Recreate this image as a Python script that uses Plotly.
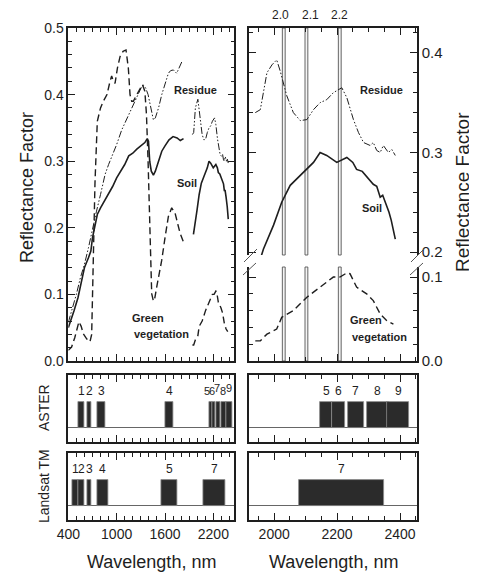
import plotly.graph_objects as go

# ---------------- data ----------------
soil_wl = [400, 430, 470, 520, 560, 600, 650, 680, 700, 730, 760, 800, 850, 900, 950, 1000, 1050,
           1100, 1150, 1200, 1250, 1300, 1350, 1380, 1395, 1410, 1430, 1456, 1480, 1520, 1560, 1600,
           1650, 1700, 1750, 1790, 1830, 1890,
           1953, 1966, 1998, 2024, 2051, 2083, 2104, 2125, 2146, 2167, 2199, 2231, 2250, 2262, 2280,
           2294, 2305, 2315, 2326, 2337, 2345, 2358, 2365, 2372, 2385]
soil_rf = [0.05, 0.06, 0.075, 0.095, 0.12, 0.14, 0.155, 0.165, 0.185, 0.205, 0.22, 0.23, 0.24, 0.25,
           0.262, 0.275, 0.285, 0.295, 0.308, 0.312, 0.318, 0.323, 0.328, 0.334, 0.33, 0.30, 0.285,
           0.279, 0.285, 0.30, 0.315, 0.323, 0.332, 0.337, 0.335, 0.331, 0.334, None,
           0.19, 0.203, 0.227, 0.25, 0.267, 0.277, 0.283, 0.29, 0.30, 0.297, 0.29, 0.295, 0.29, 0.283,
           0.281, 0.276, 0.272, 0.268, 0.266, 0.255, 0.257, 0.246, 0.24, 0.232, 0.213]

res_wl = [400, 430, 462, 500, 550, 600, 650, 711, 750, 800, 856, 900, 950, 1000, 1063, 1100, 1150,
          1228, 1270, 1311, 1332, 1360, 1390, 1420, 1456, 1480, 1520, 1560, 1600, 1642, 1670, 1704,
          1745, 1770, 1808, 1880,
          1940, 1956, 1977, 1993, 2008, 2019, 2040, 2061, 2083, 2104, 2125, 2146, 2167, 2188, 2215,
          2231, 2252, 2268, 2284, 2305, 2315, 2326, 2337, 2347, 2363, 2374, 2385]
res_rf = [0.058, 0.07, 0.082, 0.10, 0.125, 0.145, 0.17, 0.205, 0.225, 0.25, 0.28, 0.295, 0.31, 0.325,
          0.347, 0.357, 0.37, 0.392, 0.403, 0.412, 0.414, 0.41, 0.40, 0.38, 0.362, 0.365, 0.38, 0.40,
          0.415, 0.432, 0.436, 0.437, 0.432, 0.438, 0.449, None,
          0.34, 0.343, 0.38, 0.388, 0.393, 0.382, 0.357, 0.34, 0.332, 0.333, 0.343, 0.35, 0.353, 0.36,
          0.365, 0.355, 0.333, 0.32, 0.31, 0.307, 0.31, 0.302, 0.30, 0.307, 0.30, 0.303, 0.297]

veg_wl = [400, 441, 480, 510, 532, 560, 586, 630, 669, 690, 710, 731, 760, 800, 835, 880, 918, 938,
          960, 980, 1010, 1042, 1080, 1116, 1145, 1166, 1187, 1207, 1250, 1290, 1320, 1350, 1370,
          1390, 1410, 1435, 1456, 1470, 1497, 1530, 1559, 1600, 1642, 1683, 1725, 1760, 1787, 1828,
          1890,
          1940, 1956, 1977, 2008, 2024, 2061, 2104, 2146, 2188, 2209, 2231, 2241, 2262, 2294, 2315,
          2337, 2358, 2379]
veg_rf = [0.016, 0.021, 0.035, 0.05, 0.059, 0.052, 0.041, 0.033, 0.029, 0.04, 0.14, 0.267, 0.36, 0.38,
          0.39, 0.40, 0.42, 0.428, 0.42, 0.417, 0.44, 0.457, 0.465, 0.467, 0.44, 0.40, 0.39, 0.39,
          0.40, 0.41, 0.415, 0.405, 0.37, 0.30, 0.20, 0.101, 0.09, 0.092, 0.111, 0.13, 0.151, 0.185,
          0.217, 0.23, 0.222, 0.205, 0.192, 0.179, None,
          0.024, 0.024, 0.032, 0.038, 0.052, 0.06, 0.076, 0.088, 0.10, 0.10, 0.105, 0.104, 0.088,
          0.08, 0.072, 0.056, 0.048, 0.044]

aster_lo = [520, 630, 760, 1600, 2145, 2185, 2235, 2295, 2360]
aster_hi = [600, 690, 860, 1700, 2185, 2225, 2285, 2365, 2430]
aster_labels = ["1", "2", "3", "4", "5", "6", "7", "8", "9"]

tm_lo = [450, 520, 630, 760, 1550, 2080]
tm_hi = [520, 600, 690, 900, 1750, 2350]
tm_labels = ["1", "2", "3", "4", "5", "7"]

cai_lo = [2026, 2098, 2204]
cai_hi = [2035, 2107, 2213]
cai_labels = ["2.0", "2.1", "2.2"]

# ---------------- layout helpers ----------------
PAGE_OFF = 8          # browser body margin
W, H = 477 - PAGE_OFF, 573 - PAGE_OFF
FONT = "Liberation Sans, Arial, sans-serif"
INK = "#1e1e1e"


def fx(p):
    return (p - PAGE_OFF) / W


def fy(p):
    return 1 - (p - PAGE_OFF) / H


LX = [fx(68.3), fx(234.3)]
RX = [fx(249), fx(417)]
LR = [400, 2460]
RR = [1920, 2454]

fig = go.Figure()

line_styles = {
    "soil": dict(color=INK, width=1.6),
    "res": dict(color=INK, width=1.0, dash="7px,2px,1.5px,2px,1.5px,2px"),
    "veg": dict(color=INK, width=1.4, dash="7px,4px"),
}

# left main panel
for wl, rf, key in [(soil_wl, soil_rf, "soil"), (res_wl, res_rf, "res"), (veg_wl, veg_rf, "veg")]:
    fig.add_trace(go.Scatter(x=wl, y=rf, mode="lines", line=line_styles[key],
                             connectgaps=False, xaxis="x", yaxis="y", hoverinfo="skip"))
# right panel upper (soil, residue)
for wl, rf, key in [(soil_wl, soil_rf, "soil"), (res_wl, res_rf, "res")]:
    fig.add_trace(go.Scatter(x=wl, y=rf, mode="lines", line=line_styles[key],
                             connectgaps=False, xaxis="x3", yaxis="y3", hoverinfo="skip"))
# right panel lower (green vegetation)
fig.add_trace(go.Scatter(x=veg_wl, y=veg_rf, mode="lines", line=line_styles["veg"],
                         connectgaps=False, xaxis="x2", yaxis="y2", hoverinfo="skip"))

# band bars
bar_style = dict(color="#2b2b2b", line=dict(color="#8c8c8c", width=0.8))
for lo, hi, xa, ya in [(aster_lo, aster_hi, "x4", "y4"), (aster_lo, aster_hi, "x5", "y5"),
                       (tm_lo, tm_hi, "x6", "y6"), (tm_lo, tm_hi, "x7", "y7")]:
    fig.add_trace(go.Bar(x=[(a + b) / 2 for a, b in zip(lo, hi)],
                         y=[1] * len(lo), base=0,
                         width=[b - a for a, b in zip(lo, hi)],
                         marker=bar_style, xaxis=xa, yaxis=ya, hoverinfo="skip"))

ann = []


def band_labels(lo, hi, labels, xa, ya, rng, shifts=None, size=12):
    for i, (a, b, t) in enumerate(zip(lo, hi, labels)):
        c = (a + b) / 2
        if rng[0] < c < rng[1]:
            dx, dy = shifts[i] if shifts else (0, 0)
            ann.append(dict(x=c, y=1.42, xref=xa, yref=ya, text=t, showarrow=False,
                            xanchor="center", yanchor="middle", xshift=dx, yshift=dy,
                            font=dict(size=size, color=INK, family=FONT)))


# ASTER left: 5-9 are crowded, staggered like the original
band_labels(aster_lo[:4], aster_hi[:4], aster_labels[:4], "x4", "y4", LR)
band_labels(aster_lo[4:], aster_hi[4:], aster_labels[4:], "x4", "y4", LR,
            shifts=[(-4, 0), (-2, 0), (-1, 3), (-1, 0), (0, 3)], size=11)
band_labels(aster_lo, aster_hi, aster_labels, "x5", "y5", RR)
band_labels(tm_lo, tm_hi, tm_labels, "x6", "y6", LR)
band_labels(tm_lo, tm_hi, tm_labels, "x7", "y7", RR)

shapes = []
# CAI bands in right panel
for lo, hi, t, dx in zip(cai_lo, cai_hi, cai_labels, [-3, 4, 0]):
    for xa, ya in [("x3", "y3 domain"), ("x2", "y2 domain")]:
        shapes.append(dict(type="rect", xref=xa, yref=ya, x0=lo, x1=hi, y0=0, y1=1,
                           line=dict(color="#555", width=0.9), fillcolor="#f4f4f4", layer="below"))
    ann.append(dict(x=(lo + hi) / 2, y=fy(15), xref="x3", yref="paper", text=t, showarrow=False,
                    xanchor="center", yanchor="middle", xshift=dx,
                    font=dict(size=12, color=INK, family=FONT)))

# axis-break marks
for (x0, y0, x1, y1) in [(244, 262, 257, 249), (243, 275, 256, 263),
                         (411, 262, 424, 249), (410, 275, 423, 263)]:
    shapes.append(dict(type="line", xref="paper", yref="paper", x0=fx(x0), y0=fy(y0),
                       x1=fx(x1), y1=fy(y1), line=dict(color="#555", width=1)))

# curve labels
lab_font = dict(size=11, color=INK, family=FONT)
for txt, x, y in [("<b>Residue</b>", 195, 90), ("<b>Soil</b>", 187, 183),
                  ("<b>Green</b>", 148, 318), ("<b>vegetation</b>", 161, 334),
                  ("<b>Residue</b>", 381, 90), ("<b>Soil</b>", 372, 208),
                  ("<b>Green</b>", 366, 320), ("<b>vegetation</b>", 379, 337)]:
    ann.append(dict(x=fx(x), y=fy(y), xref="paper", yref="paper", text=txt, showarrow=False,
                    xanchor="center", yanchor="middle", font=lab_font))

# axis titles
for txt, x, y, ang, size in [("Reflectance Factor", 27, 188, -90, 18),
                             ("Reflectance Factor", 462, 192, -90, 19),
                             ("Wavelength, nm", 151, 562, 0, 18),
                             ("Wavelength, nm", 333, 562, 0, 18),
                             ("ASTER", 44, 408, -90, 14),
                             ("Landsat TM", 44, 486, -90, 14)]:
    ann.append(dict(x=fx(x), y=fy(y), xref="paper", yref="paper", text=txt, textangle=ang,
                    showarrow=False, xanchor="center", yanchor="middle",
                    font=dict(size=size, color=INK, family=FONT)))

common = dict(showgrid=False, zeroline=False, linecolor=INK, linewidth=1.5, tickcolor=INK,
              ticks="inside", tickwidth=1, automargin=False)
tickfont = dict(size=14, color=INK, family=FONT)


def xl(domain, anchor, show_labels=False, side="bottom", mirror="ticks"):
    return dict(common, domain=domain, range=LR, anchor=anchor, showline=True, mirror=mirror,
                side=side, tick0=400, dtick=600, ticklen=7,
                minor=dict(ticks="inside", dtick=100, tick0=400, ticklen=4, tickcolor=INK),
                showticklabels=show_labels, tickfont=tickfont)


def xr(domain, anchor, show_labels=False, side="bottom", mirror="ticks"):
    return dict(common, domain=domain, range=RR, anchor=anchor, showline=True, mirror=mirror,
                side=side, tick0=2000, dtick=200, ticklen=7,
                minor=dict(ticks="inside", dtick=50, tick0=2000, ticklen=4, tickcolor=INK),
                showticklabels=show_labels, tickfont=tickfont)


def ybar(domain, anchor):
    return dict(domain=domain, range=[-0.54, 2.04], anchor=anchor, showline=True, mirror=True,
                linecolor=INK, linewidth=1.5, ticks="", showticklabels=False, showgrid=False,
                zeroline=True, zerolinecolor="#666", zerolinewidth=1, automargin=False)


ASTER_Y = [fy(442), fy(375)]
TM_Y = [fy(520), fy(453)]

fig.update_layout(
    template="none",
    width=W, height=H, margin=dict(l=0, r=0, t=0, b=0, pad=0), autosize=False,
    paper_bgcolor="white", plot_bgcolor="white", showlegend=False,
    font=dict(family=FONT, color=INK), barmode="overlay", bargap=0,
    xaxis=xl(LX, "y"),
    yaxis=dict(common, domain=[fy(361), fy(28)], range=[0, 0.5], anchor="x", showline=True,
               mirror="ticks", dtick=0.1, ticklen=7, tickformat=".1f",
               minor=dict(ticks="inside", dtick=0.02, ticklen=4, tickcolor=INK), tickfont=tickfont),
    xaxis2=xr(RX, "y2", mirror=False),
    yaxis2=dict(common, domain=[fy(361), fy(267)], range=[0, 0.112], anchor="x2", side="right",
                showline=True, mirror="ticks", dtick=0.1, ticklen=7, tickformat=".1f",
                minor=dict(ticks="inside", dtick=0.02, ticklen=4, tickcolor=INK),
                tickfont=dict(size=15, color=INK, family=FONT)),
    xaxis3=xr(RX, "y3", side="top", mirror=False),
    yaxis3=dict(common, domain=[fy(255), fy(28)], range=[0.197, 0.425], anchor="x3", side="right",
                showline=True, mirror="ticks", tick0=0.2, dtick=0.1, ticklen=7, tickformat=".1f",
                minor=dict(ticks="inside", tick0=0.2, dtick=0.02, ticklen=4, tickcolor=INK),
                tickfont=dict(size=15, color=INK, family=FONT)),
    xaxis4=xl(LX, "y4"), yaxis4=ybar(ASTER_Y, "x4"),
    xaxis5=xr(RX, "y5"), yaxis5=ybar(ASTER_Y, "x5"),
    xaxis6=xl(LX, "y6", show_labels=True), yaxis6=ybar(TM_Y, "x6"),
    xaxis7=xr(RX, "y7", show_labels=True), yaxis7=ybar(TM_Y, "x7"),
    shapes=shapes, annotations=ann,
)

fig.write_html("out.html")
